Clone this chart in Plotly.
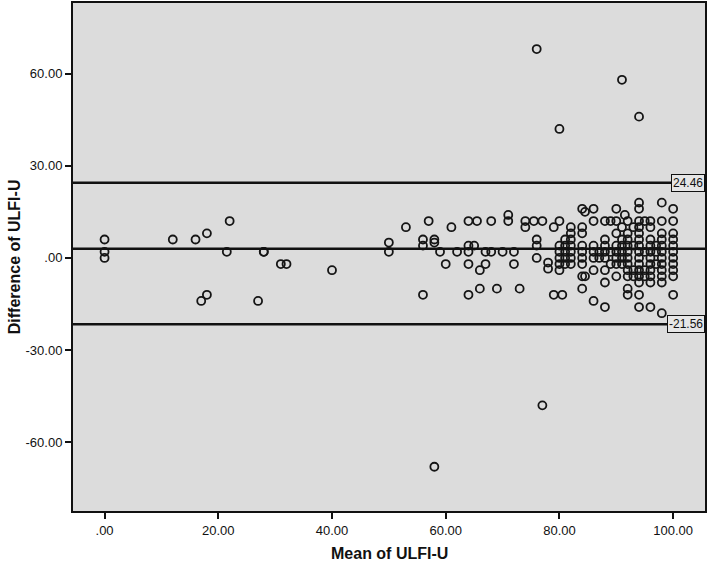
import plotly.graph_objects as go

# ---- data ----
# low-mean cases
mean_low = [0, 0, 0, 12, 16, 18, 22, 21.5, 28, 28, 31, 32, 40, 18, 17, 27]
diff_low = [6, 2, 0, 6, 6, 8, 12, 2, 2, 2, -2, -2, -4, -12, -14, -14]

# middle cases (50-69)
mean_mid = [50, 50, 53, 57, 56, 56, 56, 58, 58, 59, 61, 60, 62, 64, 65.5, 68,
            64, 65, 64, 67, 68, 64, 67, 66, 66, 69, 64]
diff_mid = [5, 2, 10, 12, 6, 4, -12, 6, 5, 2, 10, -2, 2, 12, 12, 12,
            4, 4, 2, 2, 2, -2, -2, -4, -10, -10, -12]

# 70-80 cases
mean_hi = [70, 72, 72, 71, 71, 74, 74, 75.5, 77, 79, 80, 73, 76, 76, 76, 78, 78, 79, 80.5]
diff_hi = [2, 2, -2, 14, 12, 12, 10, 12, 12, 10, 12, -10, 6, 4, 0, -1.5, -3.5, -12, -12]

# outliers
mean_out = [76, 91, 80, 94, 77, 58]
diff_out = [68, 58, 42, 46, -48, -68]

# dense upper range (80-100)
mean_dense = (
    [80] * 5 + [81] * 5 + [82] * 7 + [84] * 9 + [84.5] * 2 + [86] * 7 + [87] * 2 +
    [88] * 8 + [89] * 3 + [90] * 8 + [91] * 6 + [91.5] + [92] * 11 + [93] * 4 +
    [94] * 15 + [95] * 4 + [96] * 11 + [97] * 3 + [98] * 12 + [100] * 11
)
diff_dense = (
    [4, 2, 0, -2, -4] +
    [6, 4, 2, 0, -2] +
    [10, 8, 6, 4, 2, 0, -2] +
    [16, 10, 8, 4, 2, 0, -2, -6, -10] +
    [15, -6] +
    [16, 12, 4, 2, 0, -4, -14] +
    [2, 0] +
    [12, 6, 4, 2, 0, -4, -8, -16] +
    [12, 2, -2] +
    [16, 12, 8, 4, 2, 0, -2, -6] +
    [10, 6, 4, 2, 0, -2] +
    [14] +
    [12, 8, 6, 4, 2, 0, -2, -4, -6, -10, -12] +
    [10, 4, -4, -6] +
    [18, 16, 12, 10, 8, 6, 4, 2, 0, -2, -4, -6, -8, -12, -16] +
    [12, 2, -4, -6] +
    [12, 10, 6, 4, 2, 0, -2, -4, -6, -8, -16] +
    [4, 2, -2] +
    [18, 12, 8, 6, 4, 2, 0, -2, -4, -6, -8, -18] +
    [16, 12, 8, 6, 4, 2, 0, -2, -4, -6, -12]
)

mean_vals = mean_low + mean_mid + mean_hi + mean_out + mean_dense
diff_vals = diff_low + diff_mid + diff_hi + diff_out + diff_dense

mean_diff_line = 3.0
upper_loa = 24.46
lower_loa = -21.56

x_ticks = [0, 20, 40, 60, 80, 100]
x_tick_labels = [".00", "20.00", "40.00", "60.00", "80.00", "100.00"]
y_ticks = [-60, -30, 0, 30, 60]
y_tick_labels = ["-60.00", "-30.00", ".00", "30.00", "60.00"]

# ---- figure ----
FONT = "Liberation Sans, Arial, sans-serif"
fig = go.Figure()
fig.add_trace(go.Scatter(
    x=mean_vals, y=diff_vals, mode="markers",
    marker=dict(symbol="circle-open", size=8, color="#151515", line=dict(width=1.8)),
    showlegend=False, hoverinfo="x+y",
))

for yv in [upper_loa, mean_diff_line, lower_loa]:
    fig.add_shape(type="line", xref="paper", x0=0, x1=1, yref="y", y0=yv, y1=yv,
                  line=dict(color="#111111", width=2.5), layer="above")

for yv in [upper_loa, lower_loa]:
    fig.add_annotation(x=1, xref="paper", xanchor="right", y=yv, yref="y", yanchor="middle",
                       text=f"{yv:.2f}", showarrow=False,
                       font=dict(family=FONT, size=12, color="#111111"),
                       bgcolor="#E6E6E6", bordercolor="#111111", borderwidth=1, borderpad=1)

fig.add_annotation(x=0.5, xref="paper", y=-0.083, yref="paper", yanchor="middle",
                   text="<b>Mean of ULFI-U</b>", showarrow=False,
                   font=dict(family=FONT, size=16, color="#111111"))
fig.add_annotation(x=-0.093, xref="paper", xanchor="center", y=0.5, yref="paper",
                   text="<b>Difference of ULFI-U</b>", showarrow=False, textangle=-90,
                   font=dict(family=FONT, size=16, color="#111111"))

axis_common = dict(showgrid=False, zeroline=False, showline=True, linecolor="#111111",
                   linewidth=2, mirror=True, ticks="outside", ticklen=6, tickwidth=2,
                   tickcolor="#111111", tickfont=dict(family=FONT, size=13, color="#111111"))

fig.update_layout(
    width=708, height=562,
    margin=dict(l=73, r=2, t=1, b=51),
    paper_bgcolor="white", plot_bgcolor="#DCDCDC",
    xaxis=dict(range=[-5.55, 105.6], tickvals=x_ticks, ticktext=x_tick_labels, **axis_common),
    yaxis=dict(range=[-82.4, 83], tickvals=y_ticks, ticktext=y_tick_labels, **axis_common),
    font=dict(family=FONT),
)

fig.write_html(
    "out.html",
    config={"displayModeBar": False},
    post_script="document.body.style.margin='0';document.body.style.padding='0';"
                "document.body.style.overflow='hidden';",
)
